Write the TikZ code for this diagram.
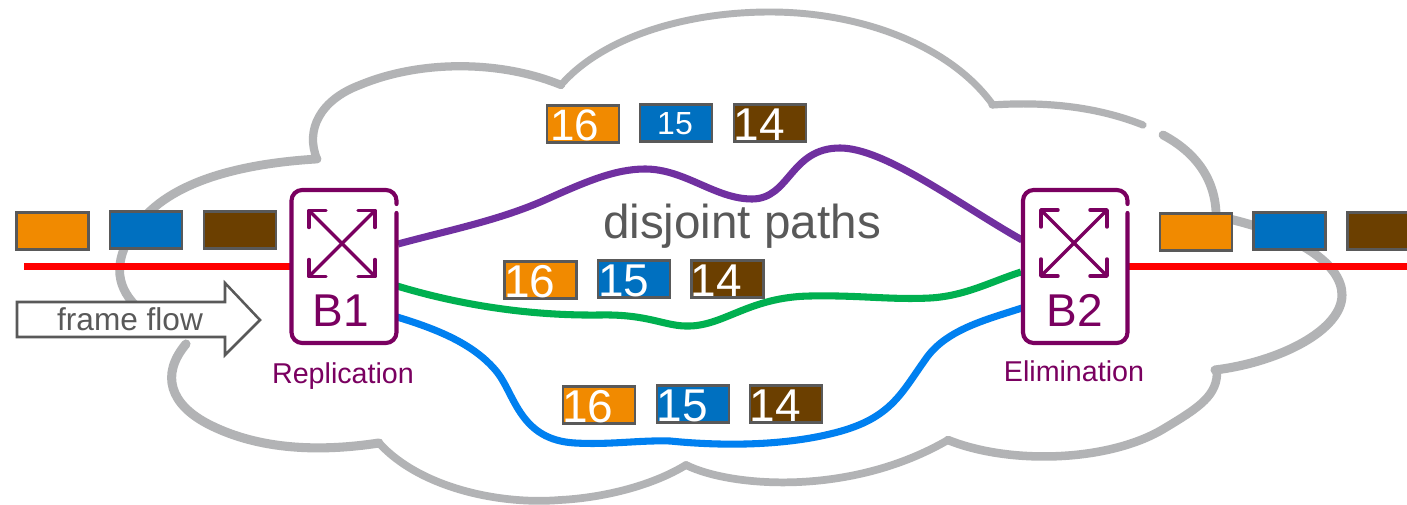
\documentclass[tikz,border=0pt]{standalone}
\usepackage{fontspec}
\setmainfont{Liberation Sans}
\definecolor{cloudc}{HTML}{B2B3B5}
\definecolor{orangec}{HTML}{F18A00}
\definecolor{bluec}{HTML}{0070C0}
\definecolor{brownc}{HTML}{6B3F00}
\definecolor{edgec}{HTML}{595959}
\definecolor{swc}{HTML}{7A0060}
\definecolor{purplec}{HTML}{7030A0}
\definecolor{greenc}{HTML}{00B050}
\definecolor{linkc}{HTML}{0080F0}
\tikzset{
  cloudline/.style={draw=cloudc,line cap=round,line join=round},
  pkt/.style={draw=edgec,line width=1.9pt,minimum width=54pt,minimum height=27.5pt,inner sep=0pt,outer sep=0pt},
  num/.style={anchor=base,inner sep=0pt,text=white,font=\fontsize{34.5pt}{40pt}\selectfont},
  numsmall/.style={anchor=base,inner sep=0pt,text=white,font=\fontsize{24pt}{28pt}\selectfont},
  swbox/.style={minimum width=78.5pt,minimum height=114.5pt,inner sep=0pt,outer sep=0pt},
  swline/.style={draw=swc,line width=3.1pt,line cap=round,line join=round,rounded corners=8pt},
  swarrow/.style={draw=swc,line width=2.6pt,line cap=round,line join=round},
  swname/.style={anchor=base,inner sep=0pt,text=swc,font=\fontsize{34.5pt}{40pt}\selectfont},
  swrole/.style={anchor=base,inner sep=0pt,text=swc,font=\fontsize{21.5pt}{26pt}\selectfont},
  graytext/.style={anchor=base,inner sep=0pt,text=edgec},
  link/.style={line width=5.3pt,line cap=butt},
  redline/.style={draw=red,line width=4.6pt}
}
\newcommand{\crossmark}[2]{%
  \begin{scope}[shift={(#1,#2)}]
    \draw[swarrow] (-33,-33) -- (33,33);
    \draw[swarrow] (-33,33) -- (33,-33);
    \draw[swarrow] (-33,-16) -- (-33,-33) -- (-16,-33);
    \draw[swarrow] (33,-16) -- (33,-33) -- (16,-33);
    \draw[swarrow] (-33,16) -- (-33,33) -- (-16,33);
    \draw[swarrow] (33,16) -- (33,33) -- (16,33);
  \end{scope}}
\begin{document}
\begin{tikzpicture}[x=0.75pt,y=-0.75pt]
\clip (0,0) rectangle (1407,505);
\fill[white] (0,0) rectangle (1407,505);
% cloud lobes
\draw[cloudline,line width=6.6pt] (317,159) .. controls (250,163) and (175,178) .. (140,222) .. controls (112,258) and (115,285) .. (136,306);
\draw[cloudline,line width=6.8pt] (186,344) .. controls (160,375) and (170,405) .. (210,425) .. controls (260,450) and (320,452) .. (379,443);
\draw[cloudline,line width=5.8pt] (379,443) .. controls (420,488) and (500,505) .. (560,500) .. controls (600,498) and (650,487) .. (686,465);
\draw[cloudline,line width=5.8pt] (686,465) .. controls (730,487) and (850,497) .. (948,440);
\draw[cloudline,line width=6.4pt] (948,440) .. controls (1010,465) and (1110,462) .. (1165,428) .. controls (1200,407) and (1218,395) .. (1217,370);
\draw[cloudline,line width=6.8pt] (1215,370) .. controls (1280,362) and (1342,330) .. (1342,295) .. controls (1342,265) and (1300,235) .. (1225,218);
\draw[cloudline,line width=6.6pt] (1163,135) .. controls (1195,152) and (1218,180) .. (1216,222);
\draw[cloudline,line width=5.4pt] (992,105) .. controls (1050,101) and (1100,108) .. (1143,125);
\draw[cloudline,line width=5.2pt] (993,105) .. controls (950,45) and (860,12) .. (770,12) .. controls (680,12) and (600,40) .. (561,85);
\draw[cloudline,line width=6.2pt] (561,85) .. controls (500,60) and (420,60) .. (360,85) .. controls (320,100) and (305,130) .. (317,159);
% switch nodes
\node[swbox] (b1) at (344.5,266.5) {};
\node[swbox] (b2) at (1075,266.5) {};
\coordinate (b1p) at (398,244);
\coordinate (b1g) at (397,286);
\coordinate (b1l) at (397,317);
\coordinate (b2p) at (1022,240);
\coordinate (b2g) at (1021,272);
\coordinate (b2l) at (1022,308);
\coordinate (redL) at (24,266.5);
\coordinate (redR) at (1407,266.5);
% paths
\draw[link,draw=purplec] (b1p) .. controls (450,230) and (500,220) .. (545,200) .. controls (585,182) and (615,169) .. (645,169) .. controls (685,169) and (715,199) .. (752,199) .. controls (790,199) and (790,148) .. (840,148) .. controls (885,148) and (960,205) .. (b2p);
\draw[link,draw=greenc] (b1g) .. controls (450,302) and (520,316) .. (600,315) .. controls (650,314) and (665,327) .. (690,326) .. controls (725,325) and (750,297) .. (810,296) .. controls (860,295) and (890,300) .. (930,298) .. controls (965,296) and (990,282) .. (b2g);
\draw[link,draw=linkc] (b1l) .. controls (440,330) and (475,345) .. (497,372) .. controls (515,395) and (520,440) .. (575,443) .. controls (610,445) and (640,440) .. (670,441) .. controls (720,446) and (780,446) .. (830,434) .. controls (890,420) and (900,395) .. (925,360) .. controls (945,330) and (985,320) .. (b2l);
% red line
\draw[redline] (redL) -- (b1.west);
\draw[redline] (b2.east) -- (redR);
% switches
\draw[swline] (396.5,204) -- (396.5,190) -- (291.5,190) -- (291.5,343) -- (396.5,343) -- (396.5,213);
\draw[swline] (1127.5,204) -- (1127.5,190) -- (1023,190) -- (1023,343) -- (1127.5,343) -- (1127.5,213);
\crossmark{342}{243.5}
\crossmark{1074}{243}
\node[swname] (b1t) at (341,327) {B1};
\node[swname] (b2t) at (1075,327) {B2};
\node[swrole] (rep) at (343,384) {Replication};
\node[swrole] (eli) at (1074,382) {Elimination};
% frame flow arrow
\draw[draw=edgec,fill=white,line width=1.9pt,line join=miter] (17,302) -- (225,302) -- (225,283) -- (260,320) -- (225,355) -- (225,337) -- (17,337) -- cycle;
\node[graytext,font=\fontsize{23.7pt}{28pt}\selectfont] (flow) at (130,331) {frame flow};
\node[graytext,font=\fontsize{35.7pt}{42pt}\selectfont] (dis) at (742,239) {disjoint paths};
% left packets
\node[pkt,fill=orangec] (lo) at (52.5,231) {};
\node[pkt,fill=bluec] (lb) at (146,230) {};
\node[pkt,fill=brownc] (lr) at (240,230) {};
% right packets
\node[pkt,fill=orangec] (ro) at (1196,232) {};
\node[pkt,fill=bluec] (rb) at (1289.5,231) {};
\node[pkt,fill=brownc] (rr) at (1383.5,231) {};
% top packets
\node[pkt,fill=orangec] (to) at (583,124) {};
\node[pkt,fill=bluec] (tb) at (676,123) {};
\node[pkt,fill=brownc] (tr) at (770,123) {};
\node[num,font=\fontsize{33pt}{38pt}\selectfont] (tot) at (575,141) {16};
\node[numsmall] (tbt) at (675,135) {15};
\node[num,font=\fontsize{34.5pt}{40pt}\selectfont] (trt) at (759,141) {14};
% middle packets
\node[pkt,fill=orangec] (mo) at (540.5,280) {};
\node[pkt,fill=bluec] (mb) at (634,279) {};
\node[pkt,fill=brownc] (mr) at (727.5,279) {};
\node[num] (mot) at (530,298) {16};
\node[num] (mbt) at (624,297) {15};
\node[num] (mrt) at (716,297) {14};
% bottom packets
\node[pkt,fill=orangec] (bo) at (599,405) {};
\node[pkt,fill=bluec] (bb) at (693,404) {};
\node[pkt,fill=brownc] (br) at (786,404) {};
\node[num] (bot) at (588,423) {16};
\node[num] (bbt) at (682,422) {15};
\node[num] (brt) at (775,422) {14};
\end{tikzpicture}
\end{document}
